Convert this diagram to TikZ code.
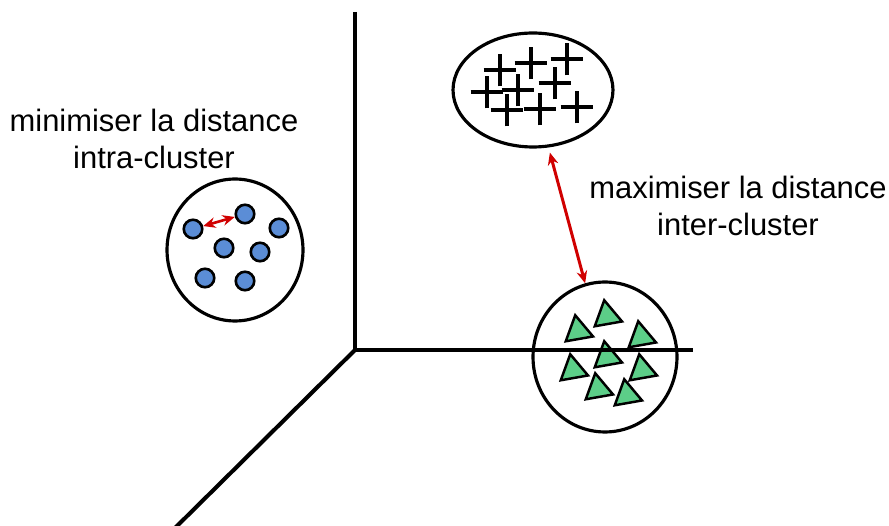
\documentclass[tikz,border=0pt]{standalone}
\usepackage{fontspec}
\setmainfont{Liberation Sans}
\usetikzlibrary{shapes.geometric,shapes.misc,arrows.meta}
\definecolor{dotblue}{RGB}{91,141,214}
\definecolor{trigreen}{RGB}{92,206,136}
\definecolor{distred}{RGB}{208,0,0}

\begin{document}
\begin{tikzpicture}[x=0.02cm,y=-0.02cm,
    cluster/.style={shape=ellipse,draw=black,line width=1.8pt,inner sep=0pt},
    bluedot/.style={shape=circle,draw=black,fill=dotblue,line width=1.5pt,minimum size=0.37cm,inner sep=0pt},
    greentri/.style={shape=regular polygon,regular polygon sides=3,draw=black,fill=trigreen,line width=1.4pt,minimum size=0.64cm,inner sep=0pt,rotate=10},
    plusmark/.style={shape=cross out,draw=black,line width=2.3pt,minimum size=0.38cm,inner sep=0pt,rotate=45},
    axisline/.style={line width=2.3pt},
    distarrow/.style={draw=distred,{Stealth[length=7pt,width=6pt]}-{Stealth[length=7pt,width=6pt]}},
    caption/.style={align=center,font=\fontsize{17.6}{21}\selectfont}]
    \useasboundingbox (0,0) rectangle (889,526);

    % clusters
    \node[cluster, minimum width=2.72cm, minimum height=2.84cm] (intra) at (235,250) {};
    \node[cluster, minimum width=3.2cm, minimum height=2.28cm] (crosses) at (533,90) {};
    \node[cluster, minimum width=2.88cm, minimum height=3.0cm] (tris) at (605,357) {};

    % blue points
    \node[bluedot] (b1) at (193,229) {};
    \node[bluedot] (b2) at (245,214) {};
    \node[bluedot] (b3) at (279,228) {};
    \node[bluedot] (b4) at (224,248) {};
    \node[bluedot] (b5) at (260,252) {};
    \node[bluedot] (b6) at (205,278) {};
    \node[bluedot] (b7) at (245,281) {};

    % plus points
    \node[plusmark] (p1) at (500,70) {};
    \node[plusmark] (p2) at (531,63) {};
    \node[plusmark] (p3) at (567,59) {};
    \node[plusmark] (p4) at (487,92) {};
    \node[plusmark] (p5) at (518,90) {};
    \node[plusmark] (p6) at (555,83) {};
    \node[plusmark] (p7) at (507,110) {};
    \node[plusmark] (p8) at (540,109) {};
    \node[plusmark] (p9) at (577,107) {};

    % green points
    \node[greentri] (g1) at (578,331) {};
    \node[greentri] (g2) at (607,316) {};
    \node[greentri] (g3) at (641,337) {};
    \node[greentri] (g4) at (607,357) {};
    \node[greentri] (g5) at (573,370) {};
    \node[greentri] (g6) at (642,370) {};
    \node[greentri] (g7) at (598,389) {};
    \node[greentri] (g8) at (627,395) {};

    % axes
    \coordinate (o) at (355,350);
    \coordinate (ytop) at (355,12);
    \coordinate (xend) at (693,350);
    \coordinate (zend) at (175,528);
    \draw[axisline] (ytop) -- (o) -- (xend);
    \draw[axisline] (o) -- (zend);

    % distances
    \path[distarrow, line width=1.5pt] (b1) edge (b2);
    \path[distarrow, line width=1.7pt, shorten <=3pt] (crosses) edge (tris);

    \node[caption] (intralabel) at (154,139) {minimiser la distance\\intra-cluster};
    \node[caption] (interlabel) at (738,206) {maximiser la distance\\inter-cluster};
\end{tikzpicture}
\end{document}
